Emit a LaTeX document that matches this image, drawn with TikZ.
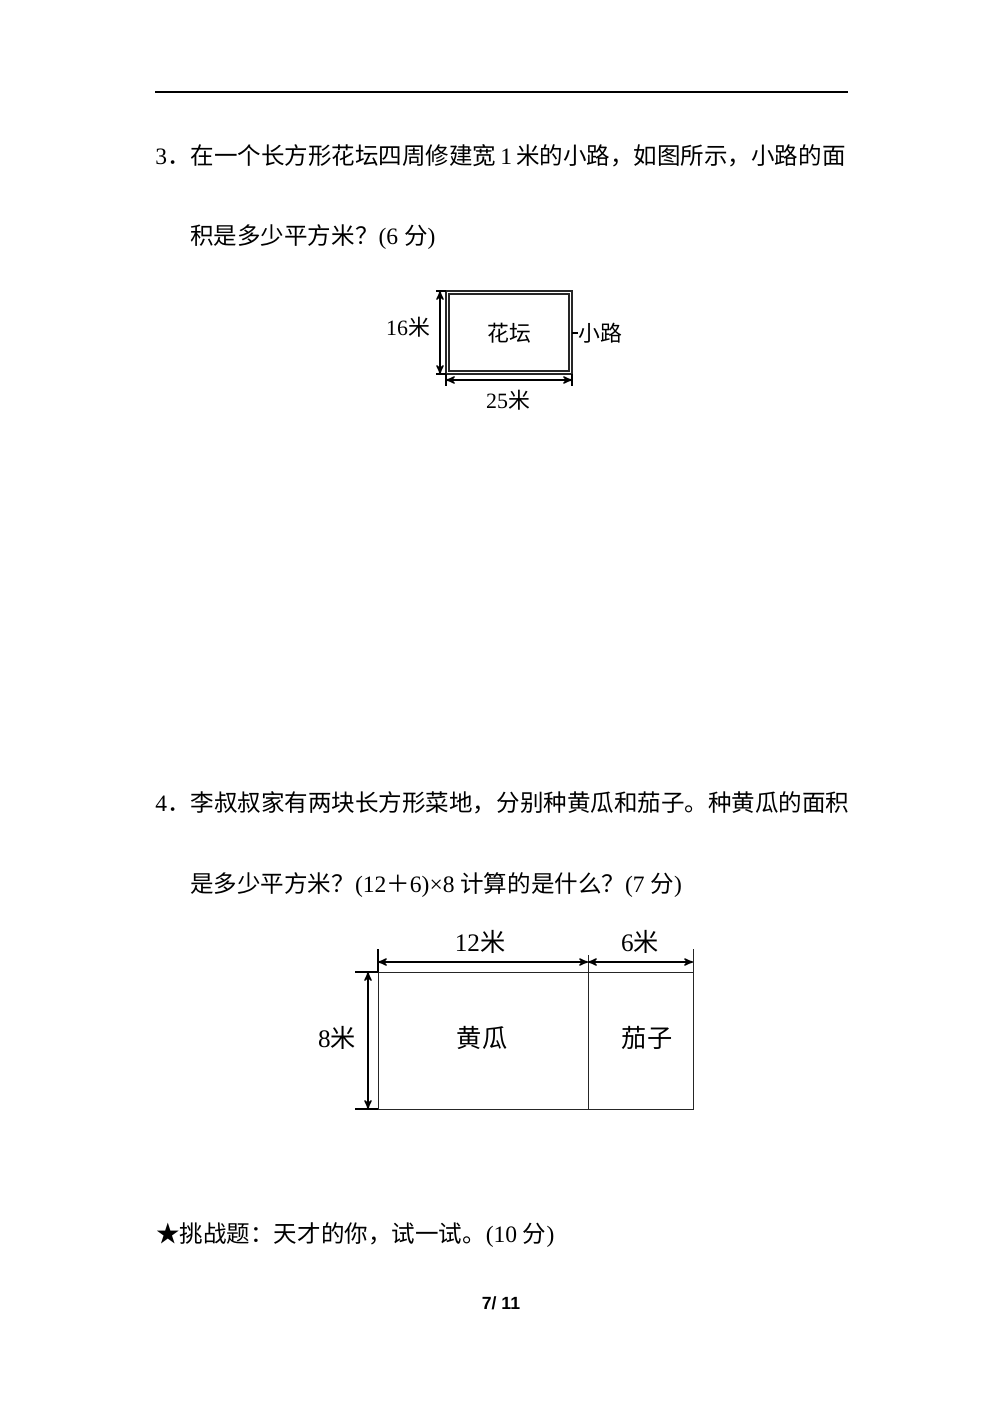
\documentclass[tikz,border=0pt]{standalone}
\usepackage{fontspec}
\setmainfont{Liberation Serif}
\setsansfont{Liberation Sans}
\newfontfamily\cjk{Noto Sans CJK SC}
\usepackage{tikz}
\usetikzlibrary{
  positioning,
  arrows
}
\tikzset{
  >=stealth',
  qline/.style={anchor=base west, inner sep=0pt, font=\fontsize{14}{16}\selectfont},
  labA/.style={inner sep=0pt, font=\fontsize{13}{15}\selectfont},
  labB/.style={inner sep=0pt, font=\fontsize{15}{17}\selectfont},
  dimline/.style={<->, line width=0.9pt},
  edgeline/.style={line width=0.6pt, black!85},
  extline/.style={line width=0.9pt}
}

\begin{document}
\begin{tikzpicture}[x=0.595pt, y=-0.595pt]
    \useasboundingbox (0,0) rectangle (1000,1415);
    \draw[line width=1.2pt] (155,92) -- (848,92);
    % question 3
    \node[qline] (q3a) at (155,164) {3{\cjk ．在一个长方形花坛四周修建宽}\,1\,{\cjk 米的小路，如图所示，小路的面}};
    \node[qline] (q3b) at (190,244) {{\cjk 积是多少平方米？}(6 {\cjk 分})};
    % flower bed
    \coordinate (o1) at (446,291);
    \coordinate (o2) at (572,374);
    \coordinate (i1) at (449,294);
    \coordinate (i2) at (569,371);
    \draw[edgeline, line width=0.8pt] (o1) rectangle (o2);
    \draw[edgeline, line width=0.8pt] (i1) rectangle (i2);
    \coordinate (t1) at (436,291);
    \coordinate (t2) at (436,374);
    \coordinate (b1) at (446,386);
    \coordinate (b2) at (572,386);
    \draw[extline] (t1) -- (o1);
    \draw[extline] (t2) -- (o1 |- o2);
    \draw[extline] (o1 |- o2) -- (b1);
    \draw[extline] (o2) -- (b2);
    \draw[dimline] (440,291) -- (440,374);
    \draw[dimline] (446,380) -- (572,380);
    \node[labA] (w16) at (408,327) {16{\cjk 米}};
    \node[labA] (bed) at (509,333) {\cjk 花坛};
    \node[labA, anchor=west] (path) at (578,333) {\cjk 小路};
    \draw[extline] (path.west) -- (path.west -| o2);
    \node[labA] (w25) at (508,400) {25{\cjk 米}};
    % question 4
    \node[qline] (q4a) at (155,811) {4{\cjk ．李叔叔家有两块长方形菜地，分别种黄瓜和茄子。种黄瓜的面积}};
    \node[qline] (q4b) at (190,892) {{\cjk 是多少平方米？}(12{\cjk ＋}6)×8 {\cjk 计算的是什么？}(7 {\cjk 分})};
    % vegetable plots
    \coordinate (p1) at (378,972);
    \coordinate (p2) at (693,1109);
    \coordinate (m1) at (588,972);
    \coordinate (m2) at (588,1109);
    \draw[edgeline] (p1) rectangle (p2);
    \draw[edgeline] (m1) -- (m2);
    \draw[extline] (p1) -- (378,949);
    \draw[edgeline] (m1) -- (588,955);
    \draw[edgeline] (p2 |- p1) -- (693,949);
    \draw[extline] (355,972) -- (p1);
    \draw[extline] (355,1109) -- (p1 |- p2);
    \draw[dimline] (378,962) -- (588,962);
    \draw[dimline] (588,962) -- (693,962);
    \draw[dimline] (368,972) -- (368,1109);
    \node[labB] (w12) at (480,942) {12{\cjk 米}};
    \node[labB] (w6) at (640,942) {6{\cjk 米}};
    \node[labB] (h8) at (337,1038) {8{\cjk 米}};
    \node[labB] (cuke) at (482,1038) {\cjk 黄瓜};
    \node[labB] (egg) at (647,1038) {\cjk 茄子};
    % challenge
    \node[qline] (star) at (156,1242) {{\cjk ★挑战题：天才的你，试一试。}(10 {\cjk 分})};
    \node[anchor=base, inner sep=0pt, font=\fontsize{10.5}{12}\sffamily\bfseries] (pg) at (501,1309) {7/ 11};
  \end{tikzpicture}
\end{document}
